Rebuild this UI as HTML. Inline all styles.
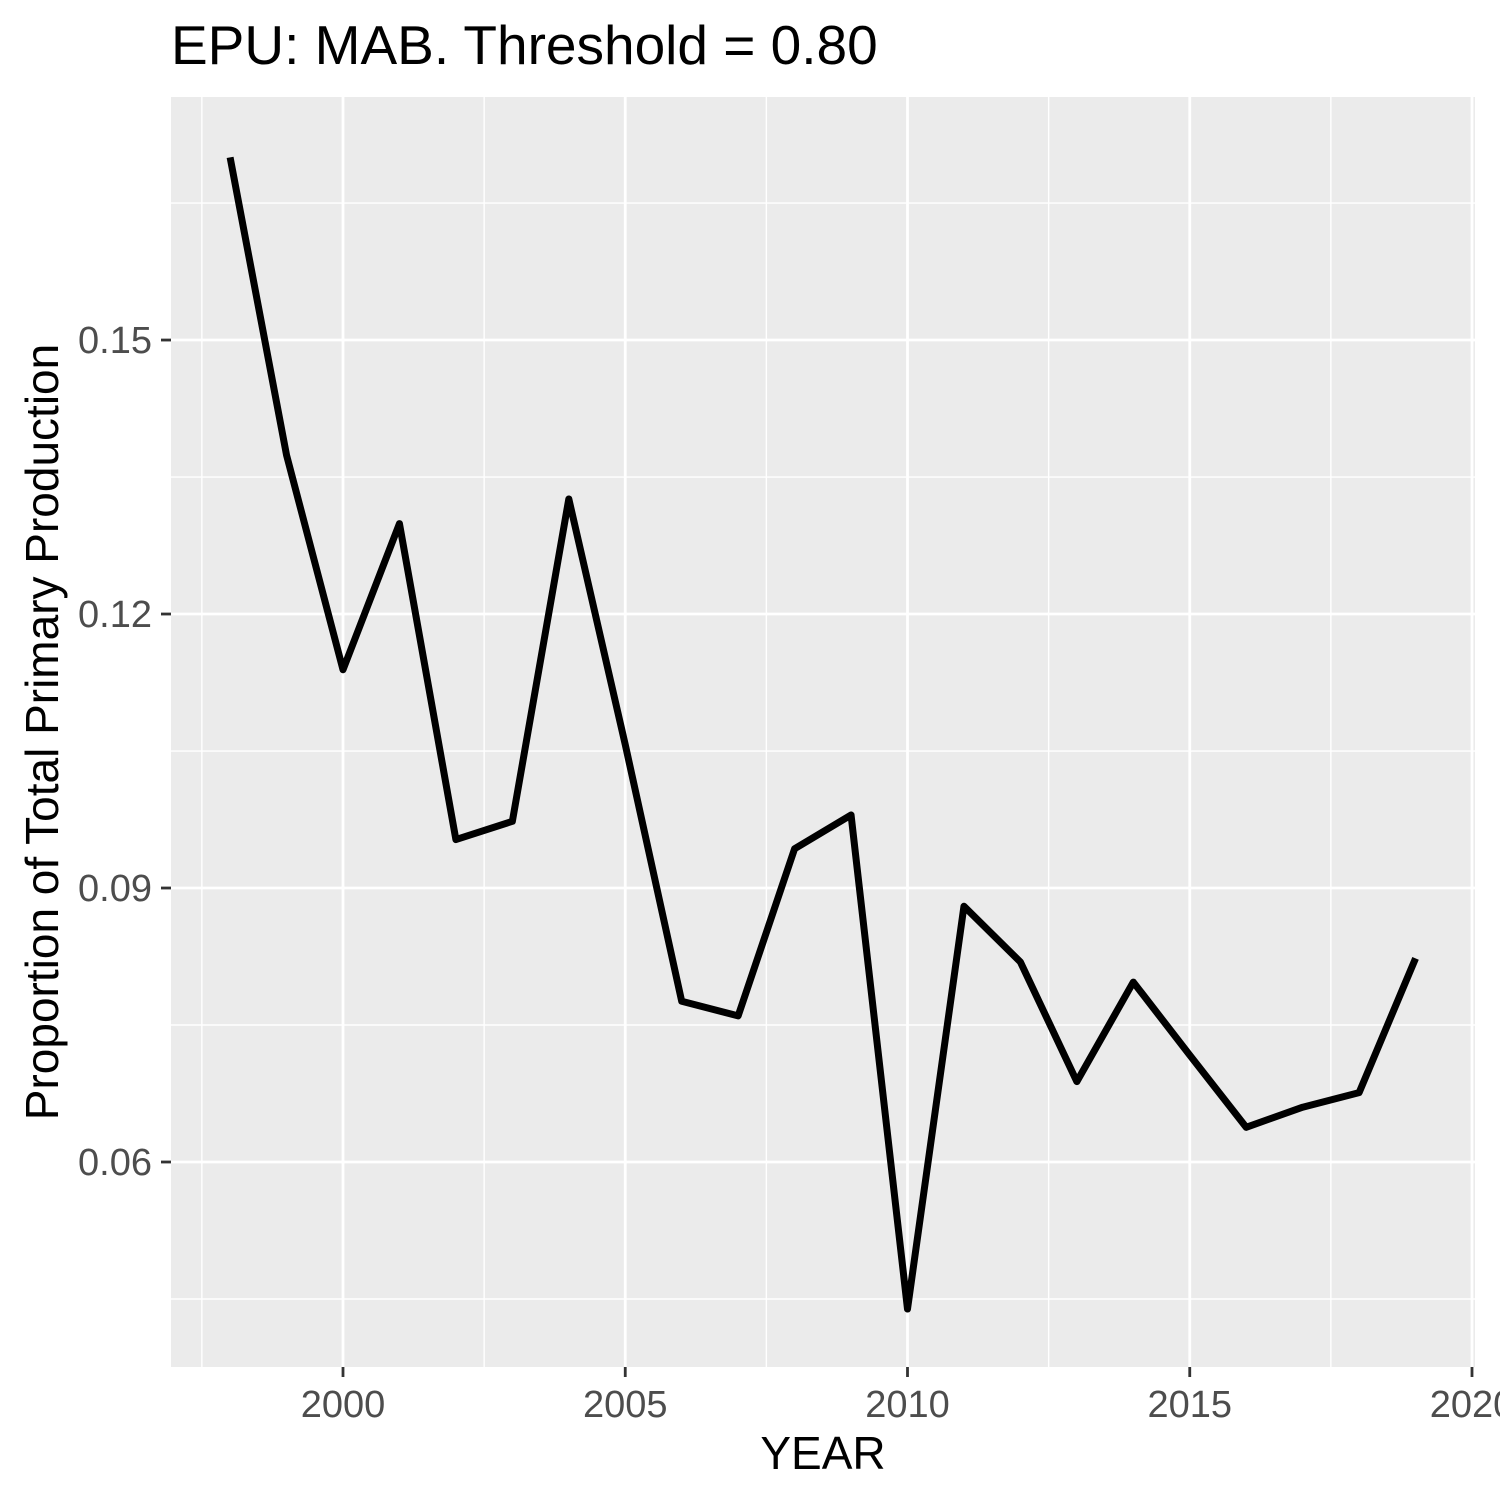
<!DOCTYPE html>
<html><head><meta charset="utf-8"><style>body{margin:0;background:#fff}svg{display:block}text{font-family:"Liberation Sans",Arial,sans-serif}</style></head>
<body>
<svg id="chart" width="1500" height="1500" xmlns="http://www.w3.org/2000/svg"></svg>
<script>
const years=[1998,1999,2000,2001,2002,2003,2004,2005,2006,2007,2008,2009,2010,2011,2012,2013,2014,2015,2016,2017,2018,2019];
const values=[0.1700,0.1374,0.1139,0.1299,0.0953,0.0973,0.1326,0.1057,0.0776,0.0760,0.0943,0.0980,0.0439,0.0880,0.0819,0.0688,0.0797,0.0717,0.0638,0.0660,0.0676,0.0823];
const xTicks=[2000,2005,2010,2015,2020];
const yTicks=[0.06,0.09,0.12,0.15];
const yTickLabels=["0.06","0.09","0.12","0.15"];
const xMinor=[1997.5,2002.5,2007.5,2012.5,2017.5];
const yMinor=[0.045,0.075,0.105,0.135,0.165];
const L=171,R=1475,T=97,B=1367;
const x=v=>343+(v-2000)*56.45;
const y=v=>1162-(v-0.06)*9133;
const svg=document.getElementById('chart');const NS='http://www.w3.org/2000/svg';
function mk(t,a,p){const e=document.createElementNS(NS,t);for(const k in a)e.setAttribute(k,a[k]);(p||svg).appendChild(e);return e;}
let e=mk('rect',{x:L,y:T,width:R-L,height:B-T,fill:'#ebebeb'});


const g=mk('g',{});


xMinor.forEach(v=>mk('line',{x1:x(v),x2:x(v),y1:T,y2:B,stroke:'#fff','stroke-width':1.4},g));
yMinor.forEach(v=>mk('line',{x1:L,x2:R,y1:y(v),y2:y(v),stroke:'#fff','stroke-width':1.4},g));
xTicks.forEach(v=>mk('line',{x1:x(v),x2:x(v),y1:T,y2:B,stroke:'#fff','stroke-width':2.8},g));
yTicks.forEach(v=>mk('line',{x1:L,x2:R,y1:y(v),y2:y(v),stroke:'#fff','stroke-width':2.8},g));
const ax=mk('g',{});


xTicks.forEach(v=>{mk('line',{x1:x(v),x2:x(v),y1:B,y2:B+10,stroke:'#333','stroke-width':2.8},ax);const t=mk('text',{x:x(v),y:1417,'text-anchor':'middle','font-size':38,fill:'#4d4d4d'},ax);t.textContent=v;});
const ay=mk('g',{});


yTicks.forEach((v,i)=>{mk('line',{x1:L-10,x2:L,y1:y(v),y2:y(v),stroke:'#333','stroke-width':2.8},ay);const t=mk('text',{x:L-19,y:y(v)+13,'text-anchor':'end','font-size':38,fill:'#4d4d4d'},ay);t.textContent=yTickLabels[i];});
const p=mk('polyline',{points:years.map((yr,i)=>x(yr)+','+y(values[i])).join(' '),fill:'none',stroke:'#000','stroke-width':7,'stroke-linejoin':'round'});


let t=mk('text',{x:823,y:1469,'text-anchor':'middle','font-size':46,fill:'#000'});t.textContent='YEAR';


t=mk('text',{x:0,y:0,'text-anchor':'middle','font-size':46,fill:'#000',transform:'translate(58,732) rotate(-90)'});t.textContent='Proportion of Total Primary Production';


t=mk('text',{x:171,y:64,'font-size':55,fill:'#000'});t.textContent='EPU: MAB. Threshold = 0.80';


</script>
</body></html>
